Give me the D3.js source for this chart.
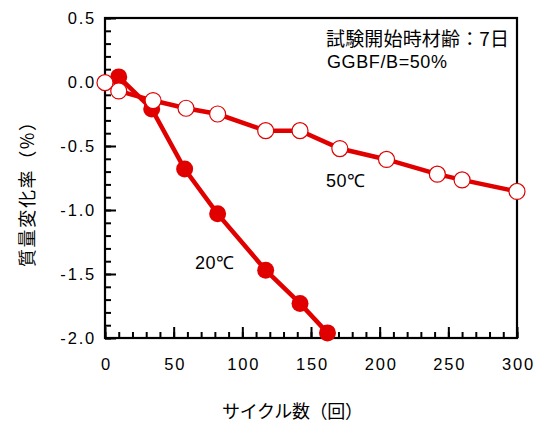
<!DOCTYPE html>
<html><head><meta charset="utf-8">
<script src="https://cdn.jsdelivr.net/npm/d3@7"></script>
<style>body{margin:0;background:#fff}svg{display:block}</style>
</head><body>
<svg id="c" width="540" height="432"></svg>
<script>
const cycles20 = [10, 34, 58, 82, 117, 142, 162];
const mass20 = [0.04, -0.21, -0.68, -1.03, -1.47, -1.73, -1.96];
const cycles50 = [0, 10, 35, 59, 82, 117, 142, 171, 205, 242, 260, 300];
const mass50 = [-0.005, -0.07, -0.145, -0.205, -0.25, -0.38, -0.38, -0.52, -0.605, -0.72, -0.765, -0.855];
const xTicks = [0, 50, 100, 150, 200, 250, 300];
const yTicks = [0.5, 0.0, -0.5, -1.0, -1.5, -2.0];

const svg = d3.select("#c");
const L = 105, R = 517, T = 18, B = 338;
const x = d3.scaleLinear().domain([0, 300]).range([L, R]);
const y = d3.scaleLinear().domain([-2.0, 0.5]).range([B, T]);
const red = "#e00000";
const numFont = "Liberation Sans";
const jpFont = "Noto Sans CJK JP";

// frame
svg.append("rect").attr("x", L).attr("y", T).attr("width", R - L).attr("height", B - T)
  .attr("fill", "none").attr("stroke", "#000").attr("stroke-width", 2.2);

// x ticks (inward)
const gx = svg.append("g").attr("transform", `translate(0,${B})`);
gx.call(d3.axisBottom(x).tickValues(d3.range(0, 301, 10)).tickSize(-6).tickFormat(""));
gx.append("g").call(d3.axisBottom(x).tickValues(xTicks).tickSize(-11).tickFormat(""));
gx.selectAll(".domain").remove();
gx.selectAll("line").attr("stroke", "#000").attr("stroke-width", 2);
svg.append("g").selectAll("text").data(xTicks).join("text")
  .attr("x", d => x(d) + 1.5).attr("y", B + 32).attr("text-anchor", "middle")
  .attr("font-family", numFont).attr("font-size", 16.5).attr("letter-spacing", 1.8).text(d => d);

// y ticks (inward)
const gy = svg.append("g").attr("transform", `translate(${L},0)`);
gy.call(d3.axisLeft(y).tickValues(d3.range(-20, 6, 1).map(v => v / 10)).tickSize(-6).tickFormat(""));
gy.append("g").call(d3.axisLeft(y).tickValues(yTicks).tickSize(-11).tickFormat(""));
gy.selectAll(".domain").remove();
gy.selectAll("line").attr("stroke", "#000").attr("stroke-width", 2);
svg.append("g").selectAll("text").data(yTicks).join("text")
  .attr("x", L - 9).attr("y", d => y(d) + 5.8).attr("text-anchor", "end")
  .attr("font-family", numFont).attr("font-size", 16.5).attr("letter-spacing", 1.8).text(d => d.toFixed(1));

const line = d3.line().x(d => x(d[0])).y(d => y(d[1]));
const d20 = cycles20.map((c, i) => [c, mass20[i]]);
const d50 = cycles50.map((c, i) => [c, mass50[i]]);

svg.append("path").datum(d20).attr("d", line).attr("fill", "none").attr("stroke", red).attr("stroke-width", 4.5);
svg.append("g").selectAll("circle").data(d20).join("circle")
  .attr("cx", d => x(d[0])).attr("cy", d => y(d[1])).attr("r", 8.5).attr("fill", red);

svg.append("path").datum(d50).attr("d", line).attr("fill", "none").attr("stroke", red).attr("stroke-width", 4.5);
svg.append("g").selectAll("circle").data(d50).join("circle")
  .attr("cx", d => x(d[0])).attr("cy", d => y(d[1])).attr("r", 8)
  .attr("fill", "#fff").attr("stroke", red).attr("stroke-width", 1.2);

// annotations
svg.append("text").attr("x", 326).attr("y", 46).attr("font-family", jpFont).attr("font-size", 19)
  .attr("textLength", 183).attr("lengthAdjust", "spacing").text("試験開始時材齢：7日");
svg.append("text").attr("x", 327).attr("y", 67.5).attr("font-family", numFont).attr("font-size", 18)
  .attr("textLength", 120).attr("lengthAdjust", "spacing").text("GGBF/B=50%");
svg.append("text").attr("x", 326).attr("y", 187).attr("font-family", numFont).attr("font-size", 18)
  .attr("textLength", 39).attr("lengthAdjust", "spacing").text("50℃");
svg.append("text").attr("x", 195).attr("y", 269).attr("font-family", numFont).attr("font-size", 18)
  .attr("textLength", 39).attr("lengthAdjust", "spacing").text("20℃");

// axis titles
svg.append("text").attr("x", 222).attr("y", 418)
  .attr("font-family", jpFont).attr("font-size", 18)
  .attr("textLength", 141).attr("lengthAdjust", "spacing").text("サイクル数（回）");
svg.append("text").attr("transform", "translate(34,267) rotate(-90)")
  .attr("font-family", jpFont).attr("font-size", 18)
  .attr("textLength", 154).attr("lengthAdjust", "spacing").text("質量変化率（%）");
</script>
</body></html>
